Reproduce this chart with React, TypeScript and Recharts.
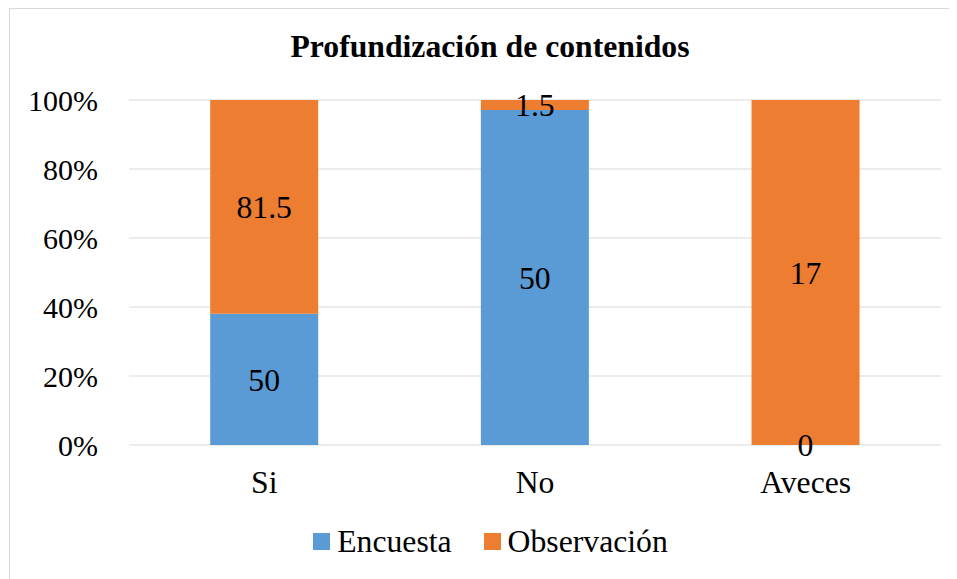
import React from "react";
import { BarChart, Bar, XAxis, YAxis, CartesianGrid, Legend, LabelList } from "recharts";

const categories = ["Si", "No", "Aveces"];
const encuesta = [50, 50, 0];
const observacion = [81.5, 1.5, 17];
const yTicks = [0, 0.2, 0.4, 0.6, 0.8, 1];
const title = "Profundización de contenidos";
const seriesNames = ["Encuesta", "Observación"];
const colors = ["#5B9BD5", "#ED7D31"];

const data = categories.map((c, i) => ({ name: c, enc: encuesta[i], obs: observacion[i] }));

const FONT = "'Liberation Serif', 'Times New Roman', serif";
const FS = 31.7;

const LegendContent = () => (
  <div
    style={{
      display: "flex",
      justifyContent: "center",
      alignItems: "center",
      height: 31,
      paddingLeft: 14,
      boxSizing: "border-box",
      fontFamily: FONT,
      fontSize: FS,
      lineHeight: 1,
      color: "#000",
    }}
  >
    {seriesNames.map((n, i) => (
      <div key={n} style={{ display: "flex", alignItems: "center", marginLeft: i === 0 ? 0 : 32 }}>
        <div style={{ width: 17, height: 17, background: colors[i], marginRight: 7 }} />
        <span>{n}</span>
      </div>
    ))}
  </div>
);

const labelText = (cx: number, cy: number, value: any, key?: string) => (
  <text
    key={key}
    x={cx}
    y={cy}
    dy={FS * 0.355}
    textAnchor="middle"
    fontFamily={FONT}
    fontSize={FS}
    fill="#000"
  >
    {String(value)}
  </text>
);

// label at the centre of the segment
const renderCenterLabel = (props: any) => {
  const { x, y, width, height, value } = props;
  if (value === undefined || value === null) return null;
  return labelText(Number(x) + Number(width) / 2, Number(y) + Number(height) / 2, value);
};

// zero-valued Encuesta segments have no rectangle; their label sits at the
// bottom edge of the Observación segment (the stack position of the empty segment)
const renderZeroEncLabel = (props: any) => {
  const { x, y, width, height, value } = props;
  if (Number(value) !== 0) return null;
  return labelText(Number(x) + Number(width) / 2, Number(y) + Number(height), value);
};

export default function App() {
  return (
    <div
      style={{
        position: "relative",
        marginLeft: 1,
        width: 948,
        height: 571,
        borderLeft: "1px solid #d9d9d9",
        borderTop: "1px solid #d9d9d9",
        boxSizing: "border-box",
        overflow: "hidden",
        background: "#fff",
      }}
    >
      <div
        style={{
          position: "absolute",
          left: 0,
          top: 21.5,
          width: 960,
          textAlign: "center",
          fontFamily: FONT,
          fontWeight: "bold",
          fontSize: FS,
          lineHeight: 1,
          color: "#000",
          zIndex: 2,
        }}
      >
        {title}
      </div>
      <BarChart
        width={947}
        height={570}
        data={data}
        stackOffset="expand"
        barCategoryGap="30%"
        margin={{ top: 91, right: 16, bottom: 53, left: 0 }}
      >
        <CartesianGrid vertical={false} stroke="#d9d9d9" strokeWidth={1} />
        <XAxis
          dataKey="name"
          axisLine={false}
          tickLine={false}
          tickSize={0}
          tickMargin={25.5}
          height={50}
          tick={{ fontFamily: FONT, fontSize: FS, fill: "#000" }}
        />
        <YAxis
          width={119}
          domain={[0, 1]}
          ticks={yTicks}
          axisLine={false}
          tickLine={false}
          tickSize={0}
          tickMargin={31}
          tickFormatter={(v: number) => `${Math.round(v * 100)}%`}
          tick={{ fontFamily: FONT, fontSize: 30, fill: "#000" }}
        />
        <Legend
          verticalAlign="bottom"
          content={<LegendContent />}
          wrapperStyle={{ top: 517.3, bottom: "auto", left: 0, width: 947 }}
        />
        <Bar dataKey="enc" name={seriesNames[0]} stackId="a" fill={colors[0]} isAnimationActive={false}>
          <LabelList dataKey="enc" content={renderCenterLabel} />
        </Bar>
        <Bar dataKey="obs" name={seriesNames[1]} stackId="a" fill={colors[1]} isAnimationActive={false}>
          <LabelList dataKey="obs" content={renderCenterLabel} />
          <LabelList dataKey="enc" content={renderZeroEncLabel} />
        </Bar>
      </BarChart>
    </div>
  );
}
